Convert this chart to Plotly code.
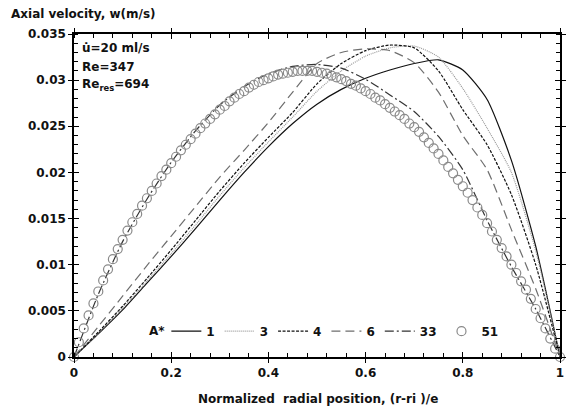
import plotly.graph_objects as go

# ---------------- data ----------------
x_line = [0.0, 0.05, 0.1, 0.15, 0.2, 0.25, 0.3, 0.35, 0.4, 0.45, 0.5,
          0.55, 0.6, 0.65, 0.7, 0.75, 0.8, 0.85, 0.9, 0.95, 1.0]

w_A1 = [0.0, 0.0025, 0.0051, 0.0080, 0.0109, 0.0139, 0.0170, 0.0200, 0.0228, 0.0253, 0.0274,
        0.0290, 0.0302, 0.0311, 0.0318, 0.0322, 0.0311, 0.0279, 0.0213, 0.0120, 0.0]
w_A3 = [0.0, 0.0026, 0.0053, 0.0082, 0.0112, 0.0143, 0.0175, 0.0205, 0.0233, 0.0260, 0.0288,
        0.0310, 0.0326, 0.0335, 0.0337, 0.0325, 0.0291, 0.0248, 0.0200, 0.0115, 0.0]
w_A4 = [0.0, 0.0027, 0.0055, 0.0085, 0.0116, 0.0148, 0.0180, 0.0210, 0.0238, 0.0265, 0.0296,
        0.0318, 0.0332, 0.0338, 0.0335, 0.0310, 0.0268, 0.0230, 0.0176, 0.0100, 0.0]
w_A6 = [0.0, 0.0033, 0.0066, 0.0099, 0.0131, 0.0163, 0.0195, 0.0224, 0.0254, 0.0287, 0.0318,
        0.0330, 0.0334, 0.0332, 0.0319, 0.0287, 0.0240, 0.0203, 0.0138, 0.0074, 0.0]
w_A33 = [0.0, 0.0068, 0.0125, 0.0171, 0.0211, 0.0245, 0.0273, 0.0293, 0.0307, 0.0315, 0.0317,
         0.0313, 0.0301, 0.0284, 0.0266, 0.0239, 0.0203, 0.0148, 0.0098, 0.0052, 0.0]

x_circ = [i / 100 for i in range(101)]
w_A51 = [0.0000, 0.0016, 0.0031, 0.0045, 0.0058, 0.0071, 0.0083, 0.0095, 0.0106, 0.0117,
         0.0127, 0.0137, 0.0146, 0.0155, 0.0164, 0.0172, 0.0180, 0.0188, 0.0196, 0.0203,
         0.0210, 0.0217, 0.0224, 0.0230, 0.0236, 0.0242, 0.0248, 0.0253, 0.0258, 0.0263,
         0.0268, 0.0272, 0.0277, 0.0281, 0.0285, 0.0288, 0.0292, 0.0295, 0.0298, 0.0300,
         0.0302, 0.0304, 0.0306, 0.0307, 0.0308, 0.0309, 0.0310, 0.0310, 0.0310, 0.0310,
         0.0309, 0.0308, 0.0307, 0.0305, 0.0303, 0.0301, 0.0299, 0.0296, 0.0294, 0.0291,
         0.0288, 0.0285, 0.0281, 0.0278, 0.0274, 0.0270, 0.0266, 0.0262, 0.0258, 0.0253,
         0.0249, 0.0244, 0.0238, 0.0232, 0.0226, 0.0220, 0.0213, 0.0206, 0.0199, 0.0192,
         0.0185, 0.0178, 0.0170, 0.0162, 0.0154, 0.0145, 0.0136, 0.0127, 0.0118, 0.0109,
         0.0100, 0.0091, 0.0082, 0.0073, 0.0063, 0.0052, 0.0042, 0.0031, 0.0020, 0.0009,
         0.0000]

x_tickvals = [0, 0.2, 0.4, 0.6, 0.8, 1.0]
x_ticktext = ["0", "0.2", "0.4", "0.6", "0.8", "1"]
y_tickvals = [0, 0.005, 0.01, 0.015, 0.02, 0.025, 0.03, 0.035]
y_ticktext = ["0", "0.005", "0.01", "0.015", "0.02", "0.025", "0.03", "0.035"]

FONT = "DejaVu Sans"
BFONT = dict(family=FONT, size=12, color="#111111", weight="bold")

fig = go.Figure()

def line(y, name, color, dash, width=1.2):
    fig.add_trace(go.Scatter(x=x_line, y=y, mode="lines", name=name,
                             line=dict(color=color, dash=dash, width=width,
                                       shape="spline", smoothing=0.6)))

line(w_A1, "1", "#111111", "solid")
line(w_A3, "3", "#9a9a9a", "1px,1px")
line(w_A4, "4", "#111111", "3px,1.5px")
line(w_A6, "6", "#6e6e6e", "9px,5px")
line(w_A33, "33", "#333333", "9px,3px,2px,3px")
fig.add_trace(go.Scatter(x=x_circ, y=w_A51, mode="markers", name="51", cliponaxis=False,
                         marker=dict(symbol="circle-open", size=9, color="#8a8a8a",
                                     line=dict(width=1.2, color="#8a8a8a"))))
# helper overlay for the crossing part of major ticks
fig.add_trace(go.Scatter(x=[0.5], y=[0.01], xaxis="x2", yaxis="y2", mode="markers",
                         marker=dict(opacity=0), showlegend=False, hoverinfo="skip"))

axis_common = dict(showgrid=False, zeroline=False, showline=True, linecolor="black",
                   linewidth=1.5, mirror="ticks", ticks="outside", ticklen=4,
                   tickcolor="black", tickwidth=1.2, tickfont=BFONT)

fig.update_layout(
    width=568, height=412,
    margin=dict(l=74, r=2, t=34, b=55),
    paper_bgcolor="white", plot_bgcolor="white",
    font=dict(family=FONT, size=12, color="#111111"),
    xaxis=dict(range=[0, 1], tickvals=x_tickvals, ticktext=x_ticktext,
               minor=dict(dtick=0.04, tick0=0, ticks="inside", ticklen=4,
                          tickcolor="black", tickwidth=1),
               **axis_common),
    yaxis=dict(range=[0, 0.035], tickvals=y_tickvals, ticktext=y_ticktext,
               minor=dict(dtick=0.001, tick0=0, ticks="inside", ticklen=4,
                          tickcolor="black", tickwidth=1),
               **axis_common),
    xaxis2=dict(range=[0, 1], overlaying="x", tickvals=x_tickvals, showticklabels=False,
                ticks="inside", ticklen=5, tickcolor="black", tickwidth=1.2,
                mirror="ticks", showline=False, showgrid=False, zeroline=False),
    yaxis2=dict(range=[0, 0.035], overlaying="y", tickvals=y_tickvals, showticklabels=False,
                ticks="inside", ticklen=5, tickcolor="black", tickwidth=1.2,
                mirror="ticks", showline=False, showgrid=False, zeroline=False),
    legend=dict(orientation="h", x=0.19, y=0.08, xanchor="left", yanchor="middle",
                bgcolor="rgba(0,0,0,0)", font=BFONT,
                itemwidth=30, tracegroupgap=0),
    showlegend=True,
)

ann = [
    dict(text="Axial velocity, w(m/s)", x=8, y=14),
    dict(text="u\u0307=20 ml/s", x=80, y=48),
    dict(text="Re=347", x=80, y=67),
    dict(text="Re<sub>res</sub>=694", x=80, y=85),
    dict(text="A*", x=148, y=331),
]
for a in ann:
    fig.add_annotation(text=a["text"], xref="paper", yref="paper",
                       x=(a["x"] - 74) / 492, y=(357 - a["y"]) / 323,
                       xanchor="left", yanchor="middle", showarrow=False, font=BFONT)
fig.add_annotation(text="Normalized  radial position, (r-ri )/e", xref="paper", yref="paper",
                   x=(321 - 74) / 492, y=(357 - 399) / 323, xanchor="center", yanchor="middle",
                   showarrow=False, font=BFONT)

fig.write_html("out.html", config={"displayModeBar": False},
               post_script="document.body.style.margin='0';document.body.style.overflow='hidden';")
